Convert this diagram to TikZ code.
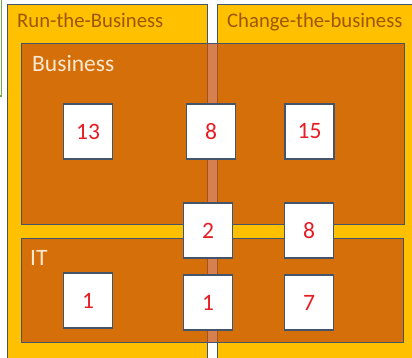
\documentclass[tikz,border=0pt]{standalone}
\usepackage{fontspec}
\setmainfont{Carlito}
\definecolor{panel}{RGB}{255,192,0}
\definecolor{rust}{RGB}{197,81,13}
\definecolor{edge}{RGB}{68,84,106}
\definecolor{title}{RGB}{156,87,0}
\definecolor{cream}{RGB}{253,232,210}
\definecolor{num}{RGB}{232,28,36}
\definecolor{leaf}{RGB}{112,173,71}
\tikzset{pn/.style = {rectangle, fill=panel, draw=edge, line width=1.2pt, anchor=north west, inner sep=0pt},
           ar/.style = {rectangle, fill=rust, fill opacity=.73, draw=edge, draw opacity=1, line width=1.2pt, anchor=north west, inner sep=0pt},
           sq/.style = {rectangle, fill=white, draw=edge, line width=1.2pt, minimum width=49pt, minimum height=55pt, inner sep=0pt,
                        text=num, font=\fontsize{23.5}{25}\selectfont},
           hd/.style = {anchor=base west, inner sep=0pt, text=title, font=\fontsize{20.7}{24}\selectfont},
           ha/.style = {anchor=base west, inner sep=0pt, text=cream, font=\fontsize{23.5}{26}\selectfont}}
\begin{document}
\begin{tikzpicture}[x=1pt, y=-1pt]
    \useasboundingbox (0,0) rectangle (412,358);
    \clip (0,0) rectangle (412,358);
    % panels
    \node[pn, minimum width=200pt, minimum height=380pt] (run) at (7,4) {};
    \node[pn, minimum width=220pt, minimum height=380pt] (chg) at (217,4) {};
    \draw[leaf, line width=1.2pt] (-2,96) -- (1.5,96) -- (1.5,-2);
    \node[hd] (runt) at (17,28) {Run-the-Business};
    \node[hd] (chgt) at (227,28) {Change-the-business};
    % areas
    \node[ar, minimum width=383pt, minimum height=181pt] (bus) at (21,43) {};
    \node[ar, minimum width=382pt, minimum height=104pt] (it) at (21,238) {};
    \node[ha] (bust) at (32,72) {Business};
    \node[ha] (itt) at (30,265) {IT};
    % counts
    \node[sq] (b13) at (88,131.5) {13};
    \node[sq] (b8) at (211,131.5) {8};
    \node[sq] (b15) at (309.5,131.5) {15};
    \node[sq] (x2) at (208,230.5) {2};
    \node[sq] (x8) at (309,230.5) {8};
    \node[sq] (i1) at (88,300.5) {1};
    \node[sq] (j1) at (208,302.5) {1};
    \node[sq] (i7) at (309,302.5) {7};
\end{tikzpicture}
\end{document}
